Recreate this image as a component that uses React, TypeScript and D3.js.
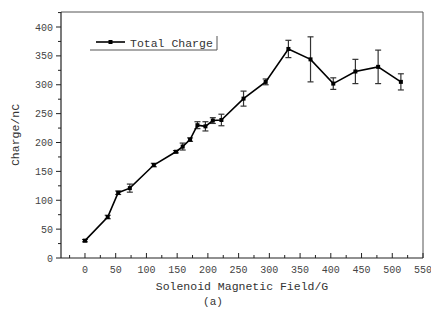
import React from "react";
import * as d3 from "d3";

const fieldG = [0, 37, 54, 73, 112, 148, 159, 171, 183, 196, 208, 222, 258, 294, 331, 367, 404, 440, 477, 514];
const chargeNC = [30, 71, 113, 121, 161, 184, 193, 205, 230, 228, 238, 239, 276, 305, 362, 344, 302, 323, 331, 305];
const chargeErr = [2, 3, 3, 7, 3, 2, 6, 3, 6, 8, 5, 10, 13, 5, 15, 39, 10, 21, 29, 14];
const xTicks = [0, 50, 100, 150, 200, 250, 300, 350, 400, 450, 500, 550];
const yTicks = [0, 50, 100, 150, 200, 250, 300, 350, 400];
const seriesName = "Total Charge";

const W = 431, H = 315;
const L = 61, R = 423, T = 12, B = 258;

export default function App() {
  const x = d3.scaleLinear().domain([-39, 550]).range([L, R]);
  const y = d3.scaleLinear().domain([0, 426]).range([B, T]);
  const line = d3.line<number>().x((_, i) => x(fieldG[i])).y((d) => y(d));
  const xMinor = d3.range(-25, 551, 25);
  const yMinor = d3.range(0, 426, 25);
  const font = "'Liberation Mono', monospace";
  const axisCol = "#555";
  return (
    <svg width={W} height={H} style={{ position: "absolute", left: 0, top: 0, background: "#fff" }}>
      {/* frame */}
      <line x1={L} x2={R} y1={T} y2={T} stroke={axisCol} strokeWidth={1} />
      <line x1={R} x2={R} y1={T} y2={B} stroke={axisCol} strokeWidth={1} />
      <line x1={L} x2={L} y1={T} y2={B} stroke="#222" strokeWidth={1.2} />
      <line x1={L} x2={R} y1={B} y2={B} stroke="#222" strokeWidth={1.2} />
      {/* y ticks */}
      {yMinor.map((v) => (
        <line key={"ym" + v} x1={L} x2={L - (v % 50 === 0 ? 5 : 3)} y1={y(v)} y2={y(v)} stroke="#222" />
      ))}
      {yTicks.map((v) => (
        <text key={"yl" + v} x={L - 8} y={y(v) + 3.5} textAnchor="end" fontFamily={font} fontSize={10} fill="#444">{v}</text>
      ))}
      {/* x ticks */}
      {xMinor.map((v) => (
        <line key={"xm" + v} x1={x(v)} x2={x(v)} y1={B} y2={B - (v % 50 === 0 ? 5 : 3)} stroke="#222" />
      ))}
      {xTicks.map((v) => (
        <text key={"xl" + v} x={x(v)} y={B + 15} textAnchor="middle" fontFamily={font} fontSize={10} fill="#444">{v}</text>
      ))}
      {/* axis titles */}
      <text x={(L + R) / 2} y={290} textAnchor="middle" fontFamily={font} fontSize={11.5} fill="#333">Solenoid Magnetic Field/G</text>
      <text x={213} y={305} textAnchor="middle" fontFamily={font} fontSize={11} fill="#333">(a)</text>
      <text transform={`translate(19, ${(T + B) / 2}) rotate(-90)`} textAnchor="middle" fontFamily={font} fontSize={11.5} fill="#333">Charge/nC</text>
      {/* error bars */}
      {chargeNC.map((v, i) => {
        const cx = x(fieldG[i]);
        const y1 = y(v - chargeErr[i]);
        const y2 = y(v + chargeErr[i]);
        return (
          <g key={"e" + i} stroke="#333" strokeWidth={1.2}>
            <line x1={cx} x2={cx} y1={y1} y2={y2} />
            <line x1={cx - 3} x2={cx + 3} y1={y1} y2={y1} />
            <line x1={cx - 3} x2={cx + 3} y1={y2} y2={y2} />
          </g>
        );
      })}
      <path d={line(chargeNC) || ""} fill="none" stroke="#000" strokeWidth={1.6} />
      {chargeNC.map((v, i) => (
        <rect key={"m" + i} x={x(fieldG[i]) - 2} y={y(v) - 2} width={4} height={4} fill="#000" />
      ))}
      {/* legend */}
      <line x1={90} x2={217} y1={50} y2={50} stroke="#555" />
      <line x1={217} x2={217} y1={36} y2={50} stroke="#555" />
      <line x1={96} x2={125} y1={42} y2={42} stroke="#000" strokeWidth={1.6} />
      <rect x={108.5} y={40} width={4} height={4} fill="#000" />
      <text x={130} y={46.5} fontFamily={font} fontSize={11.5} fill="#333">{seriesName}</text>
    </svg>
  );
}
